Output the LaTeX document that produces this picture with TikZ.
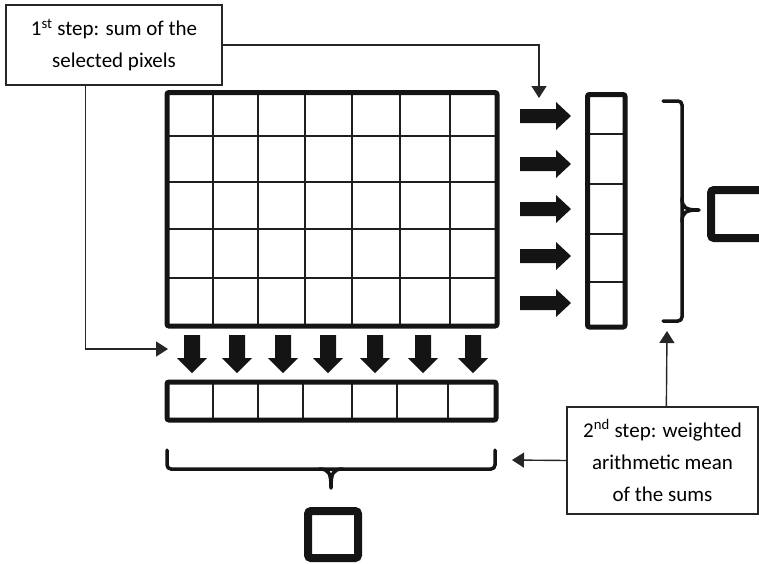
\documentclass[tikz,border=0pt]{standalone}
\usepackage{fontspec}
\setmainfont{Carlito}
\usetikzlibrary{arrows.meta}
\begin{document}
\begin{tikzpicture}[x=1pt,y=-1pt,
  labelbox/.style={draw=black!85, line width=1.3pt, fill=white, align=center,
    font=\fontsize{21}{32}\selectfont, inner sep=0pt},
  link/.style={line width=1.4pt, draw=black!85,
    -{Triangle[width=15pt,length=12pt]}},
  frame/.style={line width=5pt, draw=black!92, rounded corners=2pt},
  cell/.style={line width=1.8pt, draw=black!88},
  fat/.style={fill=black!92},
  brace/.style={line width=3.5pt, draw=black!92, rounded corners=4pt, line cap=round},
  total/.style={line width=8pt, draw=black!92, rounded corners=3pt}]
\useasboundingbox (0,0) rectangle (759,563);

% main pixel grid: 7 columns, 5 rows
\foreach \x in {213,258,305,352,400,450} \draw[cell] (\x,92.5) -- (\x,326);
\foreach \y in {136,182,229,278} \draw[cell] (167,\y) -- (497,\y);
\draw[frame] (167,92.5) rectangle (497,326);

% column of row sums
\foreach \y in {134,184,234,282} \draw[cell] (587.5,\y) -- (625,\y);
\draw[frame] (587.5,94.5) rectangle (625,327);

% row of column sums
\foreach \x in {213,258,303,352,397,448} \draw[cell] (\x,382) -- (\x,420);
\draw[frame] (167,382) rectangle (496,420);

% block arrows towards the sums
\foreach \y in {116,164,209,256,303}
  \fill[fat] (520,\y-7) -- (556,\y-7) -- (556,\y-14) -- (571,\y)
             -- (556,\y+14) -- (556,\y+7) -- (520,\y+7) -- cycle;
\foreach \x in {192,237,283,328,375,423,473}
  \fill[fat] (\x-8,335) -- (\x+8,335) -- (\x+8,358) -- (\x+15,358)
             -- (\x,373) -- (\x-15,358) -- (\x-8,358) -- cycle;

% braces gathering the sums
\draw[brace] (663,101) -- (682,101) -- (682,321) -- (663,321);
\draw[brace, rounded corners=0pt]
  (682,198) .. controls (682,208) and (686,210) .. (699,210)
  (682,222) .. controls (682,212) and (686,210) .. (699,210);
\draw[brace] (167,450) -- (167,469) -- (495,469) -- (495,450);
\draw[brace, rounded corners=0pt]
  (319,469) .. controls (329,469) and (331,473) .. (331,488)
  (343,469) .. controls (333,469) and (331,473) .. (331,488);

% final results
\draw[total] (711,190) rectangle (767,238);
\draw[total] (308,511) rectangle (358,558);

% explanatory labels
\node[labelbox, minimum width=216pt, minimum height=80pt] (step1) at (114,45)
  {1\textsuperscript{st} step: sum of the\\selected pixels};
\node[labelbox, minimum width=191pt, minimum height=107pt] (step2) at (662.5,460.5)
  {2\textsuperscript{nd} step: weighted\\arithmetic mean\\of the sums};

% arrow targets
\coordinate (toCol) at (539,98);
\coordinate (toRow) at (168,349);
\coordinate (toBrB) at (512,460);
\coordinate (toBrR) at (667,331);

\draw[link] (step1.east) -| (toCol);
\draw[link] ([xshift=80pt]step1.south west) |- (toRow);
\draw[link] (step2.west) -- (toBrB);
\draw[link] ([xshift=100pt]step2.north west) -- (toBrR);
\end{tikzpicture}
\end{document}
